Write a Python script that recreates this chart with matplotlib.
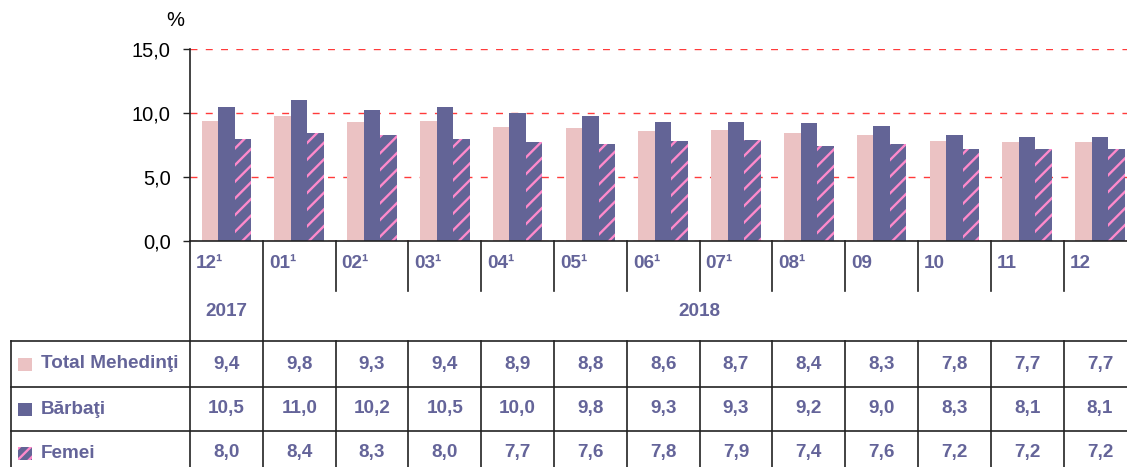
import matplotlib.pyplot as plt
import numpy as np
from matplotlib.transforms import blended_transform_factory
from matplotlib.patches import Rectangle

plt.rcParams['font.family'] = ['Liberation Sans', 'DejaVu Sans']
plt.rcParams['hatch.linewidth'] = 1.7

# date
months = ['12¹', '01¹', '02¹', '03¹', '04¹', '05¹', '06¹', '07¹', '08¹', '09', '10', '11', '12']
years = ['2017', '2018']
serii = ['Total Mehedinţi', 'Bărbaţi', 'Femei']
total = [9.4, 9.8, 9.3, 9.4, 8.9, 8.8, 8.6, 8.7, 8.4, 8.3, 7.8, 7.7, 7.7]
barbati = [10.5, 11.0, 10.2, 10.5, 10.0, 9.8, 9.3, 9.3, 9.2, 9.0, 8.3, 8.1, 8.1]
femei = [8.0, 8.4, 8.3, 8.0, 7.7, 7.6, 7.8, 7.9, 7.4, 7.6, 7.2, 7.2, 7.2]
yticks = [0, 5, 10, 15]

roz = '#EBC2C3'
albastru = '#636496'
dunga = '#FF8ACB'
text_col = '#646499'
linie = '#222222'
fs = 13.6

W, H = 1127, 467
fig = plt.figure(figsize=(W / 100, H / 100), dpi=100)

# overlay pentru tabel, in pixeli
ax2 = fig.add_axes([0, 0, 1, 1])
ax2.set_xlim(0, W)
ax2.set_ylim(H, 0)
ax2.axis('off')

ax = fig.add_axes([190 / W, (H - 241) / H, 946.4 / W, 192 / H])
x = np.arange(len(months))
w = 0.227
ax.bar(x - w, total, w, color=roz, linewidth=0)
ax.bar(x, barbati, w, color=albastru, linewidth=0)
ax.bar(x + w, femei, w, color=albastru, edgecolor=dunga, hatch='//', linewidth=0)

ax.set_xlim(-0.5, len(months) - 0.5)
ax.set_ylim(0, 15)
ax.set_yticks(yticks)
ax.set_yticklabels([f'{v:.1f}'.replace('.', ',') for v in yticks])
ax.set_xticks([])
ax.tick_params(axis='y', length=5, width=1, color=linie, labelsize=14.5, pad=9)
ax.spines['top'].set_visible(False)
ax.spines['right'].set_visible(False)
for s in ['left', 'bottom']:
    ax.spines[s].set_color(linie)
    ax.spines[s].set_linewidth(1.2)
ax.set_axisbelow(True)
ax.yaxis.grid(True, color='#FF3B3B', linestyle=(0, (5, 6)), linewidth=1)
ax.patch.set_alpha(0)
ax2.text(175, 21, '%', fontsize=14.5, ha='center', va='center')

tr = blended_transform_factory(ax.transData, ax2.transData)

# linii verticale sub axa
ax2.plot([-0.5, -0.5], [241, H + 5], color=linie, lw=1.2, transform=tr, clip_on=False)
ax2.plot([0.5, 0.5], [241, H + 5], color=linie, lw=1.2, transform=tr, clip_on=False)
for k in range(1, len(months) - 1):
    ax2.plot([k + 0.5, k + 0.5], [241, 291], color=linie, lw=1.2, transform=tr, clip_on=False)
    ax2.plot([k + 0.5, k + 0.5], [341, H + 5], color=linie, lw=1.2, transform=tr, clip_on=False)

# etichete luni si ani
for i, m in enumerate(months):
    ax2.text(i - 0.5 + 6 / 72.8, 264, m, transform=tr, color=text_col, fontsize=fs,
             fontweight='bold', ha='left', va='center')
ax2.text(0, 312, years[0], transform=tr, color=text_col, fontsize=fs, fontweight='bold',
         ha='center', va='center')
ax2.text((1 + len(months) - 1) / 2, 312, years[1], transform=tr, color=text_col, fontsize=fs,
         fontweight='bold', ha='center', va='center')

# tabel
ax2.plot([11, 11], [341, H + 5], color=linie, lw=1.2)
for yy in [341, 387, 431]:
    ax2.plot([11, W], [yy, yy], color=linie, lw=1.2)

rows_y = [364, 409, 453]
for r, (nume, vals) in enumerate(zip(serii, [total, barbati, femei])):
    yc = rows_y[r]
    if r == 0:
        sq = Rectangle((18, yc - 6.5), 14, 13, facecolor=roz, linewidth=0)
    elif r == 1:
        sq = Rectangle((18, yc - 6.5), 14, 13, facecolor=albastru, linewidth=0)
    else:
        sq = Rectangle((18, yc - 6.5), 14, 13, facecolor=albastru, edgecolor=dunga,
                       hatch='///', linewidth=0)
    ax2.add_patch(sq)
    ax2.text(41, yc, nume, color=text_col, fontsize=fs, fontweight='bold', ha='left', va='center')
    for i, v in enumerate(vals):
        ax2.text(i, yc, f'{v:.1f}'.replace('.', ','), transform=tr, color=text_col,
                 fontsize=fs, fontweight='bold', ha='center', va='center')

fig.savefig('out.png', dpi=100)
